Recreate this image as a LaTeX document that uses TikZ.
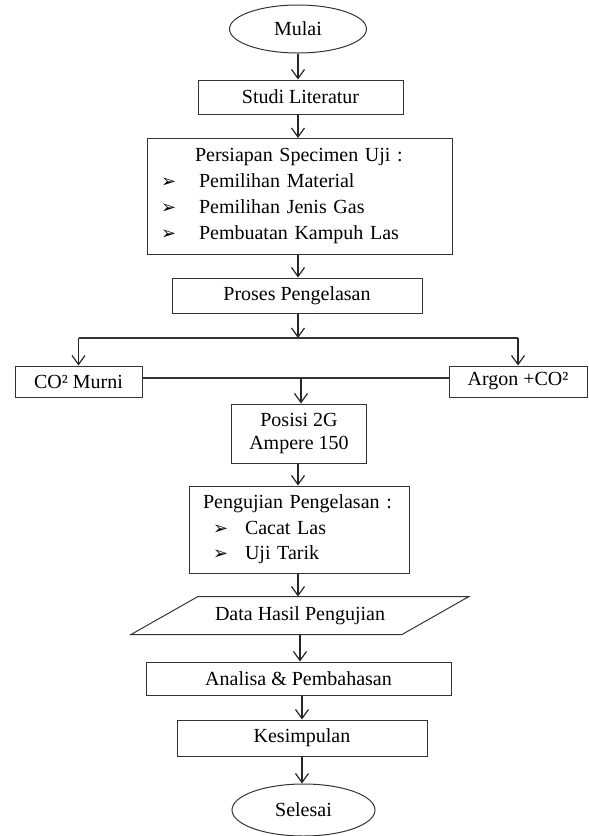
\documentclass[tikz,border=0pt]{standalone}
\usepackage{fontspec}
\setmainfont{Liberation Serif}
\newfontfamily\dejavu{DejaVu Sans}
\usetikzlibrary{shapes.geometric,arrows.meta}
\newcommand{\bul}{{\dejavu\bfseries\fontsize{18pt}{18pt}\selectfont ➢}}
\newcommand{\bitem}[3]{\hspace*{#1}\makebox[#2][l]{\bul}#3}
\begin{document}
\begin{tikzpicture}[x=1pt,y=-1pt,
  box/.style={draw=black!80, line width=1pt, inner sep=0pt, font=\fontsize{20pt}{25.5pt}\selectfont},
  term/.style={box, ellipse},
  arr/.style={draw=black!85, line width=1.2pt, -{Straight Barb[length=9pt,width=13pt,line width=1.2pt]}},
  ln/.style={draw=black!80, line width=1.2pt}]
\useasboundingbox (0,0) rectangle (589,836);
\node[term, minimum width=137pt, minimum height=48pt] (mulai) at (298,29) {Mulai};
\node[box, minimum width=205pt, minimum height=34pt] (studi) at (300.5,97) {Studi Literatur};
\node[box, minimum width=305pt, minimum height=116pt, text width=305pt, align=left, font=\fontsize{20pt}{26pt}\selectfont] (prep) at (299.5,196.5)
  {\hspace*{48pt}Persiapan Specimen Uji :\\ \bitem{14pt}{38pt}{Pemilihan Material}\\ \bitem{14pt}{38pt}{Pemilihan Jenis Gas}\\ \bitem{14pt}{38pt}{Pembuatan Kampuh Las}};
\node[box, minimum width=250pt, minimum height=35pt] (proses) at (297,295.5) {Proses Pengelasan};
\node[box, minimum width=127pt, minimum height=31pt] (co2) at (78.5,381.5) {CO² Murni};
\node[box, minimum width=138pt, minimum height=31pt] (argon) at (518,381.5) {Argon +CO²};
\node[box, minimum width=135pt, minimum height=59pt, align=center, font=\fontsize{20pt}{23pt}\selectfont] (posisi) at (299,433.5) {Posisi 2G\\Ampere 150};
\node[box, minimum width=220pt, minimum height=87pt, text width=220pt, align=left] (uji) at (299,529.5)
  {\hspace*{14pt}Pengujian Pengelasan :\\ \bitem{24pt}{32pt}{Cacat Las}\\ \bitem{24pt}{32pt}{Uji Tarik}};
\node[box, draw=none, minimum width=270pt, minimum height=37pt] (data) at (300,615.5) {Data Hasil Pengujian};
\draw[draw=black!80, line width=1pt] ([xshift=33.5pt]data.north west) -- ([xshift=33.5pt]data.north east) -- ([xshift=-33.5pt]data.south east) -- ([xshift=-33.5pt]data.south west) -- cycle;
\node[box, minimum width=305pt, minimum height=33pt] (analisa) at (298.5,678.5) {Analisa \& Pembahasan};
\node[box, minimum width=250pt, minimum height=36pt] (kesim) at (302,738) {Kesimpulan};
\node[term, minimum width=143pt, minimum height=52pt] (selesai) at (303.5,810) {Selesai};
\coordinate (split) at (298,338);
\coordinate (join) at (301,378);
\draw[arr] (mulai.south) -- (mulai.south |- studi.north);
\draw[arr] (studi.south -| mulai.south) -- (mulai.south |- prep.north);
\draw[arr] (prep.south -| mulai.south) -- (mulai.south |- proses.north);
\draw[arr] (proses.south -| split) -- (split);
\draw[ln] (split -| co2.north) -- (split -| argon.north);
\draw[arr] (split -| co2.north) -- (co2.north);
\draw[arr] (split -| argon.north) -- (argon.north);
\draw[ln] (join -| co2.east) -- (join -| argon.west);
\draw[arr] (join) -- (join |- posisi.north);
\draw[arr] (posisi.south -| mulai.south) -- (mulai.south |- uji.north);
\draw[arr] (uji.south -| mulai.south) -- (mulai.south |- data.north);
\draw[arr] (data.south) -- (data.south |- analisa.north);
\draw[arr] (analisa.south -| kesim.north) -- (kesim.north);
\draw[arr] (kesim.south) -- (kesim.south |- selesai.north);
\end{tikzpicture}
\end{document}
